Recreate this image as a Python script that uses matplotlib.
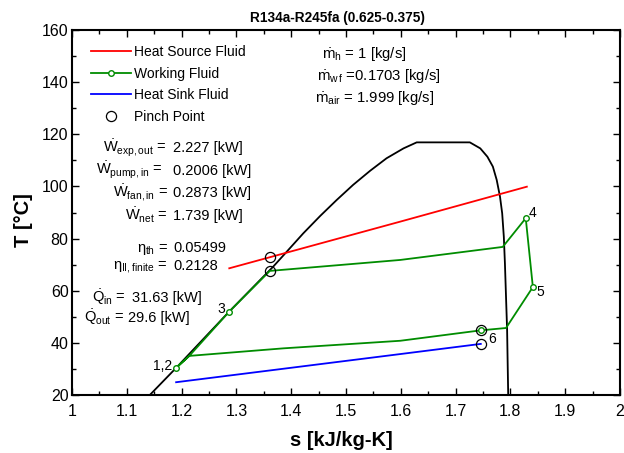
import matplotlib
matplotlib.use('Agg')
import matplotlib.pyplot as plt
from matplotlib.lines import Line2D
from matplotlib.ticker import MultipleLocator

plt.rcParams['font.family'] = ['Liberation Sans', 'DejaVu Sans']
plt.rcParams['mathtext.fontset'] = 'custom'
plt.rcParams['mathtext.rm'] = 'Liberation Sans'
plt.rcParams['mathtext.it'] = 'Liberation Sans'
plt.rcParams['mathtext.bf'] = 'Liberation Sans:bold'

# ── Data (s in kJ/kg-K, T in °C) ──────────────────────────────────────────────
dome_s = [1.142, 1.190, 1.286, 1.367, 1.392, 1.422, 1.453, 1.483, 1.513, 1.544,
          1.574, 1.605, 1.629, 1.726, 1.745, 1.758, 1.768, 1.775, 1.781, 1.785,
          1.788, 1.790, 1.792, 1.794, 1.795, 1.796]
dome_T = [20.0, 30.4, 51.8, 69.2, 75.0, 82.0, 88.7, 94.8, 100.6, 106.0,
          110.8, 114.6, 116.9, 116.9, 114.6, 111.4, 107.6, 102.5, 96.1, 89.7,
          80.7, 70.5, 57.7, 44.9, 32.2, 20.0]

source_s = [1.287, 1.599, 1.830]
source_T = [68.6, 86.5, 99.9]

sink_s = [1.190, 1.599, 1.746]
sink_T = [24.9, 35.7, 39.6]

wf_s = [1.190, 1.214, 1.287, 1.361, 1.599, 1.786, 1.828, 1.841, 1.792, 1.746,
        1.599, 1.386, 1.214, 1.190]
wf_T = [30.4, 35.0, 52.0, 67.6, 71.8, 76.8, 87.8, 61.4, 45.7, 44.8,
        40.8, 37.9, 35.0, 30.4]

state_s = [1.190, 1.287, 1.828, 1.841, 1.746]
state_T = [30.4, 52.0, 87.8, 61.4, 44.8]
state_labels = ['1,2', '3', '4', '5', '6']

pinch_s = [1.361, 1.361, 1.746, 1.746]
pinch_T = [72.8, 67.6, 44.8, 39.6]

eq_names = [r'$\dot{W}_{exp,out}$ =', r'$\dot{W}_{pump,in}$ =', r'$\dot{W}_{fan,in}$ =',
            r'$\dot{W}_{net}$ =', r'$\eta_{th}$ =', r'$\eta_{II,finite}$ =',
            r'$\dot{Q}_{in}$ =', r'$\dot{Q}_{out}$ =']
eq_values = ['2.227 [kW]', '0.2006 [kW]', '0.2873 [kW]', '1.739 [kW]',
             '0.05499', '0.2128', '31.63 [kW]', '29.6 [kW]']

mdot_texts = [r'$\dot{m}_h$ = 1 [kg/s]', r'$\dot{m}_{w\,f}$ =0.1703 [kg/s]',
              r'$\dot{m}_{air}$ = 1.999 [kg/s]']

RED, GREEN, BLUE = '#ff0000', '#008c00', '#0000ff'

# ── Figure ────────────────────────────────────────────────────────────────────
W, H = 624, 453
fig = plt.figure(figsize=(W/100, H/100), dpi=100)
ax = fig.add_axes([72/W, 1-395/H, 548/W, 365/H])

def px(x, y):
    """pixel position (from top-left) -> figure fraction"""
    return x / W, 1 - y / H

ax.plot(dome_s, dome_T, color='black', lw=1.3)
ax.plot(source_s, source_T, color=RED, lw=1.3)
ax.plot(sink_s, sink_T, color=BLUE, lw=1.3)
ax.plot(wf_s, wf_T, color=GREEN, lw=1.3)
ax.plot(state_s, state_T, ls='none', marker='o', ms=4, mfc='white',
        mec=GREEN, mew=1.0)
ax.plot(pinch_s, pinch_T, ls='none', marker='o', ms=7.3, mfc='none',
        mec='black', mew=0.9)

label_pos = [(1.166, 31.1), (1.272, 53.0), (1.840, 89.7), (1.854, 59.6), (1.766, 41.4)]
for lab, (x, y) in zip(state_labels, label_pos):
    ax.text(x, y, lab, fontsize=10, ha='center', va='center')

# performance summary (pixel layout)
name_right = [167, 162, 168, 168, 168, 167, 126, 124]
val_left = [173, 173, 173, 173, 173, 173, 132.5, 128.5]
row_y = [146.7, 169.3, 191.7, 215, 246.7, 264, 296.7, 316.7]
for name, val, xr, xl, yc in zip(eq_names, eq_values, name_right, val_left, row_y):
    fig.text(*px(xr, yc + 5.5), name, fontsize=10.5, ha='right', va='baseline')
    fig.text(*px(xl, yc + 5.5), val, fontsize=10.5, ha='left', va='baseline')

mdot_x = [321.7, 316.7, 315]
mdot_y = [53, 75, 96.7]
for txt, x, y in zip(mdot_texts, mdot_x, mdot_y):
    fig.text(*px(x, y + 5), txt, fontsize=10.7, ha='left', va='baseline')

handles = [
    Line2D([], [], color=RED, lw=1.3),
    Line2D([], [], color=GREEN, lw=1.3, marker='o', ms=4, mfc='white', mec=GREEN),
    Line2D([], [], color=BLUE, lw=1.3),
    Line2D([], [], ls='none', marker='o', ms=7.3, mfc='none', mec='black', mew=0.9),
]
ax.legend(handles, ['Heat Source Fluid', 'Working Fluid', 'Heat Sink Fluid', 'Pinch Point'],
          loc='upper left', bbox_to_anchor=(0.034, 0.959), frameon=False,
          fontsize=10, handlelength=2.9, handletextpad=0.2, labelspacing=0.55,
          borderpad=0, borderaxespad=0)

ax.set_xlim(1, 2)
ax.set_ylim(20, 160)
ax.set_xticks([1, 1.1, 1.2, 1.3, 1.4, 1.5, 1.6, 1.7, 1.8, 1.9, 2])
ax.set_xticklabels(['1', '1.1', '1.2', '1.3', '1.4', '1.5', '1.6', '1.7', '1.8', '1.9', '2'])
ax.xaxis.set_minor_locator(MultipleLocator(0.05))
ax.yaxis.set_major_locator(MultipleLocator(20))
ax.yaxis.set_minor_locator(MultipleLocator(10))
ax.tick_params(which='both', direction='in', top=True, right=True, labelsize=11.5)
ax.tick_params(which='major', length=5, width=1.0)
ax.tick_params(which='minor', length=3, width=1.0)
ax.tick_params(axis='x', pad=6.5)
ax.tick_params(axis='y', pad=2.5)
for sp in ax.spines.values():
    sp.set_linewidth(1.5)

ax.set_xlabel('s [kJ/kg-K]', fontsize=14.5, fontweight='bold')
ax.set_ylabel('T [°C]', fontsize=14.5, fontweight='bold')
ax.xaxis.set_label_coords(0.492, -0.098)
ax.yaxis.set_label_coords(-0.072, 0.48)
fig.text(*px(337.5, 18), 'R134a-R245fa (0.625-0.375)', fontsize=9.8,
         fontweight='bold', ha='center', va='center')

fig.savefig('out.png', dpi=100)
